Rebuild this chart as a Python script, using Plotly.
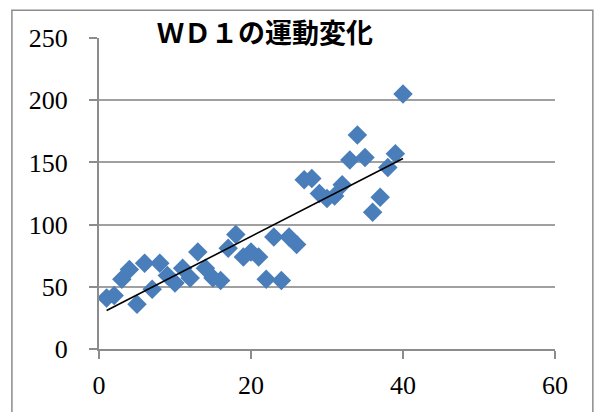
import numpy as np
import plotly.graph_objects as go

# Measurement index and value for each observation
x_vals = list(range(1, 41))
y_vals = [41, 43, 56, 64, 36, 69, 48, 69, 59, 53,
          65, 57, 78, 65, 57, 55, 81, 92, 74, 78,
          74, 56, 90, 55, 90, 84, 136, 137, 125, 121,
          123, 132, 152, 172, 154, 110, 122, 146, 157, 205]

title_text = "ＷＤ１の運動変化"
x_ticks = [0, 20, 40, 60]
y_ticks = [0, 50, 100, 150, 200, 250]

# Linear trend line fitted to the data
slope, intercept = np.polyfit(x_vals, y_vals, 1)
trend_x = [x_vals[0], x_vals[-1]]
trend_y = [slope * v + intercept for v in trend_x]

grid_col = "#a0a0a0"
axis_col = "#8c8c8c"
tick_font = dict(family="Times New Roman, Times, serif",
                 size=26, color="black")

fig = go.Figure()
fig.add_trace(go.Scatter(
    x=x_vals, y=y_vals, mode="markers",
    marker=dict(symbol="diamond", size=15, color="#4a7ebb",
                line=dict(width=0)),
    showlegend=False, hoverinfo="x+y",
))
fig.add_trace(go.Scatter(
    x=trend_x, y=trend_y, mode="lines",
    line=dict(color="black", width=1.6),
    showlegend=False, hoverinfo="skip",
))

fig.update_layout(
    width=597, height=412,
    margin=dict(l=99, r=42, t=38, b=61),
    paper_bgcolor="white", plot_bgcolor="white",
    font=tick_font,
    annotations=[dict(
        text="<b>" + title_text + "</b>",
        xref="paper", yref="paper", x=0.364, y=1.0,
        xanchor="center", yanchor="middle", showarrow=False,
        font=dict(family="Noto Sans CJK JP", size=27, color="black"),
        yshift=7,
    )],
    shapes=[dict(
        type="rect", xref="paper", yref="paper",
        x0=-0.191, x1=1.083, y0=-0.25, y1=1.089,
        line=dict(color="#8c8c8c", width=1.5), layer="below",
    )],
)
fig.update_xaxes(
    range=[0, 60], tickvals=x_ticks, showgrid=False, zeroline=False,
    showline=True, linecolor=axis_col, linewidth=2,
    ticks="outside", ticklen=8, tickwidth=2, tickcolor=axis_col,
    ticklabelstandoff=4, tickfont=tick_font,
)
fig.update_yaxes(
    range=[0, 250], tickvals=y_ticks, showgrid=True, gridcolor=grid_col,
    gridwidth=2, zeroline=False,
    showline=True, linecolor=axis_col, linewidth=2,
    ticks="outside", ticklen=8, tickwidth=2, tickcolor=axis_col,
    ticklabelstandoff=16, tickfont=tick_font,
)

fig.write_html("out.html")
